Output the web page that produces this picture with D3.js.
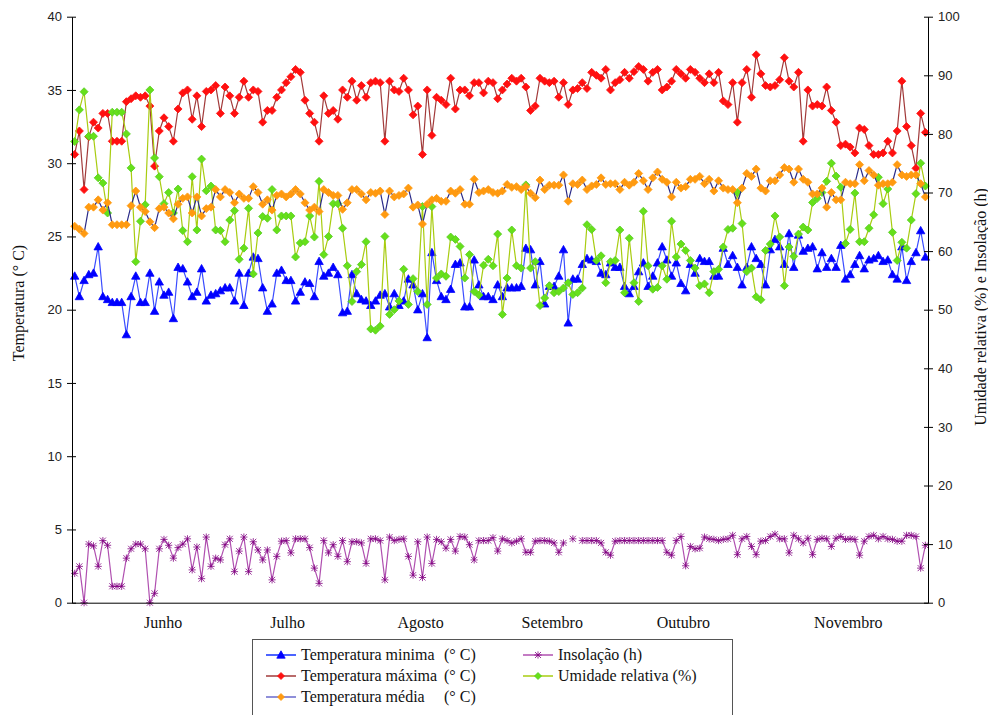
<!DOCTYPE html>
<html><head><meta charset="utf-8">
<script src="https://cdn.jsdelivr.net/npm/d3@7"></script>
<style>
body{margin:0;background:#fff}
svg{display:block}
</style></head><body>
<svg id="c" width="988" height="715"></svg>
<script>
// ---------- DATA ----------
const monthLabels = ["Junho","Julho","Agosto","Setembro","Outubro","Novembro"];
const monthPos = [18.7, 45.2, 73.5, 101.5, 129.4, 164.5]; // category index where each label sits
const leftTicks = [0,5,10,15,20,25,30,35,40];
const rightTicks = [0,10,20,30,40,50,60,70,80,90,100];

const tMin = [22.3,20.9,22.0,22.4,22.5,24.3,20.9,20.7,20.5,20.5,
20.5,18.3,20.9,22.3,20.5,20.5,22.5,19.9,21.9,21.0,
21.2,19.4,22.9,22.8,21.9,20.9,21.2,22.8,20.6,21.0,
21.1,21.3,21.5,21.5,20.6,22.5,20.3,22.5,23.6,23.5,
21.5,19.9,20.4,22.5,22.7,22.0,22.0,20.6,21.2,21.9,
21.8,20.9,23.3,22.3,22.5,
22.9,22.4,19.8,19.9,22.4,21.1,20.7,20.6,20.3,20.6,
21.0,21.1,20.2,21.1,20.3,20.6,22.1,21.7,20.0,21.1,
18.1,23.9,22.0,20.9,20.7,21.4,23.1,23.2,20.2,20.2,
23.4,21.7,20.9,20.9,20.7,21.7,20.9,21.5,21.5,21.5,
21.6,24.2,24.1,21.7,23.3,20.4,21.6,21.6,22.3,24.1,
19.1,22.1,22.1,23.1,23.5,23.4,23.3,22.5,22.4,23.2,22.9,
22.9,21.6,21.1,21.6,22.6,23.2,21.6,22.3,23.2,24.3,
23.4,22.3,23.2,21.8,21.3,23.1,22.5,23.5,23.3,23.3,
22.3,22.3,24.2,23.1,23.7,22.9,21.7,22.9,24.3,23.5,
23.1,21.7,24.1,24.8,24.3,23.1,25.2,22.9,25.1,24.0,
24.2,24.3,22.8,23.9,22.9,23.5,22.9,24.4,22.1,22.4,
23.1,23.7,22.8,23.4,23.5,23.7,23.3,23.4,22.4,22.1,
24.3,22.0,23.3,23.9,25.4,23.6];

const tMax = [30.6,32.2,28.2,31.8,32.8,32.4,33.4,33.4,31.5,31.5,
31.5,34.2,34.4,34.6,34.5,34.6,33.9,29.8,32.2,33.1,
32.5,31.5,33.7,34.8,35.0,33.0,34.6,32.5,34.9,35.0,
35.3,33.4,35.2,34.6,33.4,34.5,35.6,34.5,35.0,34.9,
32.8,33.6,33.6,34.5,35.0,35.5,35.9,36.4,36.2,34.3,
33.4,32.8,31.5,34.6,33.4,
33.6,33.0,35.0,34.5,35.6,34.3,35.3,34.5,35.5,35.6,
35.5,31.5,35.6,35.0,34.9,35.8,35.0,33.3,33.9,30.6,
35.0,31.9,34.5,34.3,34.0,35.8,33.7,35.0,35.0,34.6,
35.5,35.5,34.8,35.6,35.5,34.4,35.0,35.4,35.8,35.6,
35.8,35.2,33.6,33.9,35.8,35.6,35.5,35.6,34.5,35.5,
34.0,35.0,35.1,35.5,35.1,36.2,36.0,35.8,36.4,35.0,35.5,
35.7,36.2,35.8,36.25,36.6,36.4,35.6,36.2,36.4,35.0,
35.2,35.6,36.4,36.1,35.8,36.4,36.2,35.8,35.5,36.1,
35.5,36.2,34.25,34.0,35.5,32.8,35.5,36.4,34.5,37.4,
36.1,35.3,35.2,35.3,35.7,37.2,35.6,35.2,36.2,31.5,
35.0,33.9,34.0,33.9,35.2,33.6,32.8,31.2,31.3,31.1,
30.7,32.4,32.3,31.2,30.6,30.6,30.7,31.5,30.7,32.2,
35.6,32.5,31.2,29.65,33.4,32.1];

const tMed = [25.7,25.5,25.2,27.0,27.0,27.5,26.8,27.3,25.8,25.8,
25.8,25.8,27.1,28.1,27.0,26.7,26.0,25.6,26.9,27.0,
26.6,26.2,27.2,27.6,27.7,26.6,27.7,26.4,26.9,27.0,
28.2,27.7,28.2,28.0,27.3,27.9,27.6,27.6,28.4,28.0,
27.2,27.5,26.8,27.8,27.9,27.7,27.9,28.2,27.9,27.3,
26.8,27.0,26.7,28.2,28.0,
27.8,27.8,26.85,27.3,28.2,28.2,27.9,27.5,28.0,27.95,
28.1,26.5,28.1,27.7,27.8,27.9,28.3,27.0,27.15,25.85,
27.2,27.5,27.6,27.4,27.4,28.1,27.95,28.2,27.2,27.2,
28.9,28.0,28.1,28.2,28.0,27.95,28.1,28.55,28.35,28.4,
28.2,28.4,27.95,27.65,28.85,28.2,28.5,28.5,28.5,29.2,
27.4,28.6,28.55,28.85,28.2,28.45,28.55,29.0,28.55,28.6,28.6,
28.2,28.7,28.5,28.7,29.3,28.8,28.2,29.0,29.4,28.9,
28.7,27.7,28.7,28.3,28.4,28.9,28.9,29.1,28.6,28.9,
28.1,28.8,28.3,28.2,28.2,27.3,28.3,29.3,29.1,29.6,
28.3,28.1,28.8,28.8,29.2,29.7,29.6,28.7,29.6,28.9,
28.7,27.9,27.9,28.3,27.0,28.0,27.5,27.5,28.7,28.6,
28.6,29.9,28.8,29.5,29.2,28.5,28.6,28.6,28.7,29.9,
29.2,29.1,29.2,29.2,28.6,27.7];

const insol = [5.0,6.2,0,10.0,9.7,6.2,10.6,9.8,2.8,2.8,
2.8,7.6,9.2,10.0,10.0,9.2,0,1.6,9.2,10.8,
9.8,7.6,9.4,10.0,10.9,5.6,9.5,4.1,11.2,6.2,
7.6,7.3,9.9,10.9,5.3,8.8,11.2,5.3,10.4,9.0,
7.3,9.0,3.9,7.9,10.5,10.6,8.5,10.9,10.9,10.9,
9.4,5.9,3.3,10.6,8.5,9.9,7.9,10.6,7.0,10.4,
10.4,10.2,6.7,10.9,10.9,10.6,3.9,11.2,10.6,10.8,
10.9,7.9,4.7,10.4,4.3,11.2,6.7,10.8,10.4,9.3,
10.8,8.8,11.3,11.2,9.9,7.3,10.6,10.6,10.6,11.1,
8.8,
10.9,10.6,10.2,10.5,10.9,8.6,8.6,10.5,10.6,10.6,10.5,10.2,8.6,10.2,
null,10.9,null,
10.6,10.6,10.6,10.6,10.2,8.6,8.1,10.5,
10.6,10.6,10.6,10.6,10.6,10.6,10.6,10.6,10.6,10.6,
8.6,8.1,10.6,11.3,6.3,9.6,9.2,9.3,11.2,10.9,
10.8,10.6,10.8,10.9,11.5,8.2,10.9,11.3,9.6,8.2,
10.5,10.6,11.3,11.7,10.9,10.9,8.5,11.5,10.9,10.2,
11.0,8.2,10.8,11.0,10.9,9.6,11.0,11.3,10.8,10.9,
10.8,8.1,10.5,11.3,11.5,10.9,11.3,10.9,10.8,10.5,
10.5,11.5,11.5,11.3,5.9,9.8];

const humid = [78.7,84.1,87.2,79.6,79.6,72.5,71.6,66.5,83.7,83.7,
83.7,80.0,74.2,58.2,65.1,67.9,87.5,75.9,72.7,68.1,
70.0,66.5,70.6,63.5,61.6,72.7,63.6,75.7,70.3,71.1,
63.6,63.5,61.6,65.3,66.9,58.6,60.5,67.3,56.1,63.1,
65.9,65.6,70.5,63.6,66.0,66.0,66.0,59.0,61.4,61.6,
66.0,62.4,71.9,59.4,62.5,
68.1,68.1,63.9,57.5,51.4,56.5,57.7,61.6,46.7,46.5,
47.2,62.5,49.2,50.0,51.5,56.9,50.9,55.3,53.1,67.6,
50.9,67.6,55.4,56.1,55.7,62.4,62.0,60.8,55.4,59.4,
53.1,52.5,57.6,58.6,57.5,62.9,49.2,55.4,63.6,57.5,
57.1,71.3,57.1,58.2,50.7,52.0,54.1,52.9,53.1,53.7,
54.6,52.6,52.9,53.7,64.5,63.7,58.4,59.2,54.6,58.2,58.4,
63.6,52.9,62.2,54.6,51.4,66.8,57.5,53.5,53.8,57.5,
55.2,65.1,59.0,61.2,60.1,58.4,57.1,54.1,54.4,52.9,
56.5,56.9,60.7,63.7,63.9,70.0,64.7,56.5,57.1,52.2,
51.7,60.1,61.2,66.0,62.4,54.1,60.7,59.1,62.9,64.1,
63.6,68.3,69.0,70.0,71.9,75.0,72.8,70.9,61.3,63.7,
69.9,61.6,61.6,63.9,66.2,72.6,68.1,70.6,63.2,58.4,
61.5,60.5,65.3,69.8,75.0,71.1];

// ---------- CHART ----------
const svg = d3.select("#c");
const N = tMin.length;
const x = d3.scaleLinear().domain([-0.57, N - 1 + 0.56]).range([72, 928]);
const yL = d3.scaleLinear().domain([0, 40]).range([602.7, 16.7]);
const yR = d3.scaleLinear().domain([0, 100]).range([602.7, 16.7]);

const serif = '"Liberation Serif","Times New Roman",serif';
const sans = '"Liberation Sans",Arial,sans-serif';

const mk = {
  tri: "M0,-4.2L4.2,3.2L-4.2,3.2Z",
  dia: "M0,-4L4,0L0,4L-4,0Z",
  diaS: "M0,-3.5L3.5,0L0,3.5L-3.5,0Z",
  star: "M-3,-3L3,3M-3,3L3,-3M0,-3.6L0,3.6M-3.6,0L3.6,0"
};

function drawSeries(data, y, lineColor, path, fill, stroke, sw) {
  const g = svg.append("g");
  const line = d3.line().defined(d => d != null).x((d, i) => x(i)).y(d => y(d));
  g.append("path").datum(data).attr("d", line)
    .attr("fill", "none").attr("stroke", lineColor).attr("stroke-width", sw || 1.2)
    .attr("stroke-linejoin", "round");
  g.selectAll("path.m").data(data.map((v, i) => [v, i]).filter(d => d[0] != null))
    .enter().append("path").attr("class", "m")
    .attr("transform", d => `translate(${x(d[1])},${y(d[0])})`)
    .attr("d", path)
    .attr("fill", fill).attr("stroke", stroke).attr("stroke-width", 0.8);
}

// draw order (Excel series order)
drawSeries(tMin, yL, "#3a4cff", mk.tri, "#0000ff", "#0000ff");
drawSeries(insol, yR, "#b050b0", mk.star, "none", "#800080", 1.2);
drawSeries(tMax, yL, "#a23a3a", mk.dia, "#ff1010", "#ff1010");
drawSeries(humid, yR, "#a8cc10", mk.dia, "#66e01a", "#55cc22");
drawSeries(tMed, yL, "#2a2a88", mk.dia, "#ff9a10", "#ff9a10");

// axes
const axL = svg.append("g").attr("transform", "translate(72,0)")
  .call(d3.axisLeft(yL).tickValues(leftTicks).tickSize(5).tickSizeOuter(0).tickPadding(5));
axL.selectAll(".tick line").attr("x1", 4);
const axR = svg.append("g").attr("transform", "translate(928,0)")
  .call(d3.axisRight(yR).tickValues(rightTicks).tickSize(5).tickSizeOuter(0).tickPadding(5));
axR.selectAll(".tick line").attr("x1", -4);
[axL, axR].forEach(a => {
  a.selectAll("text").style("font-family", sans).style("font-size", "13px").attr("fill", "#222");
  a.selectAll("line,path").attr("stroke", "#000");
});
const axB = svg.append("g").attr("transform", "translate(0,602.7)")
  .call(d3.axisBottom(x).tickValues(monthPos).tickFormat((d, i) => monthLabels[i])
    .tickSize(0).tickSizeOuter(0).tickPadding(14));
axB.selectAll("text").style("font-family", serif).style("font-size", "16px").attr("fill", "#111");
axB.select(".domain").attr("stroke", "#000");

// axis titles
svg.append("text").attr("transform", "translate(24,303) rotate(-90)")
  .attr("text-anchor", "middle").style("font-family", serif).style("font-size", "16px")
  .attr("fill", "#111").text("Temperatura (° C)");
svg.append("text").attr("transform", "translate(986,307) rotate(-90)")
  .attr("text-anchor", "middle").style("font-family", serif).style("font-size", "16px")
  .attr("fill", "#111").text("Umidade relativa (%) e Insolação (h)");

// legend
const lg = svg.append("g");
lg.append("rect").attr("x", 252.5).attr("y", 639.5).attr("width", 480).attr("height", 100)
  .attr("fill", "#fff").attr("stroke", "#555").attr("stroke-width", 1);
const legendItems = [
  {name: "Temperatura minima", unit: "(° C)", col: 0, row: 0, line: "#1030ff", path: mk.tri, fill: "#0000ff", stroke: "#0000ff"},
  {name: "Temperatura máxima", unit: "(° C)", col: 0, row: 1, line: "#a23a3a", path: mk.diaS, fill: "#ff1010", stroke: "#ff1010"},
  {name: "Temperatura média", unit: "(° C)", col: 0, row: 2, line: "#6a6acc", path: mk.diaS, fill: "#ff9a10", stroke: "#ff9a10"},
  {name: "Insolação (h)", unit: "", col: 1, row: 0, line: "#b050b0", path: mk.star, fill: "none", stroke: "#800080"},
  {name: "Umidade relativa (%)", unit: "", col: 1, row: 1, line: "#a8cc10", path: mk.diaS, fill: "#66e01a", stroke: "#55cc22"}
];
const colX = [266, 523], rowY = [655, 676, 697];
legendItems.forEach(it => {
  const x0 = colX[it.col], yy = rowY[it.row];
  lg.append("line").attr("x1", x0).attr("x2", x0 + 30).attr("y1", yy).attr("y2", yy)
    .attr("stroke", it.line).attr("stroke-width", 1.5);
  lg.append("path").attr("transform", `translate(${x0 + 15},${yy})`).attr("d", it.path)
    .attr("fill", it.fill).attr("stroke", it.stroke).attr("stroke-width", 0.8);
  lg.append("text").attr("x", x0 + 35).attr("y", yy + 5).style("font-family", serif)
    .style("font-size", "16px").attr("fill", "#111").text(it.name);
  if (it.unit) lg.append("text").attr("x", 444).attr("y", yy + 5).style("font-family", serif)
    .style("font-size", "16px").attr("fill", "#111").text(it.unit);
});
</script>
</body></html>
